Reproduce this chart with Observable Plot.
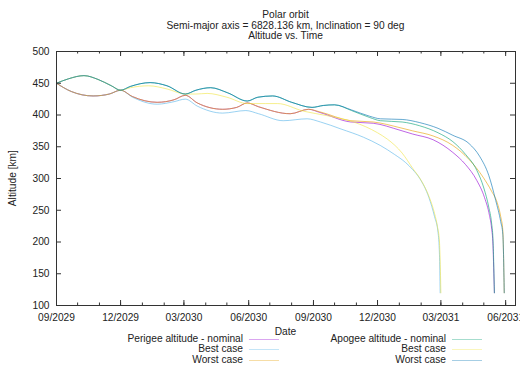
<!DOCTYPE html>
<html><head><meta charset="utf-8">
<script src="https://cdn.jsdelivr.net/npm/d3@7"></script>
<script src="https://cdn.jsdelivr.net/npm/@observablehq/plot@0.6"></script>
<style>
body{margin:0;background:#fff;}
#wrap{position:relative;width:520px;height:365px;overflow:hidden;font-family:"Liberation Sans",Arial,sans-serif;font-size:10.2px;color:#222;line-height:10.3px;}
#title{position:absolute;left:25.5px;top:10.3px;width:520px;text-align:center;}
#chart{position:absolute;left:0;top:40px;}
#ylabel{position:absolute;left:-37px;top:173px;width:100px;text-align:center;transform:rotate(-90deg);transform-origin:50% 50%;}
#xlabel{position:absolute;left:235.5px;top:327px;width:100px;text-align:center;}
.lt{position:absolute;white-space:nowrap;text-align:right;}
.sw{position:absolute;height:1px;width:30px;}
</style></head><body>
<div id="wrap">
  <div id="title"></div>
  <div id="chart"></div>
  <div id="ylabel"></div>
  <div id="xlabel"></div>
  <div id="legend"></div>
</div>
<script>
const titleLines = ["Polar orbit", "Semi-major axis = 6828.136 km, Inclination = 90 deg", "Altitude vs. Time"];
const yLabel = "Altitude [km]";
const xLabel = "Date";
const xTickLabels = ["2029-09-01","2029-12-01","2030-03-01","2030-06-01","2030-09-01","2030-12-01","2031-03-01","2031-06-01"];
const yTicks = [100,150,200,250,300,350,400,450,500];
const xDomain = ["2029-09-01","2031-06-15"];

const seriesLabels = ["Perigee altitude - nominal","Best case","Worst case","Apogee altitude - nominal","Best case","Worst case"];
const seriesColors = ["#9400d3","#56b4e9","#e69f00","#009e73","#f0e442","#0072b2"];

const perigeeNominal = [
 ["2029-09-01",450],["2029-09-22",437],["2029-10-23",430],["2029-11-15",433],["2029-12-01",439],
 ["2029-12-18",429],["2030-01-22",420],["2030-02-15",424],["2030-03-03",431],["2030-03-20",419],
 ["2030-04-25",409],["2030-05-15",412],["2030-05-30",419],["2030-06-15",413],["2030-07-30",402],
 ["2030-08-25",409],["2030-09-10",404],["2030-10-24",389],["2030-11-25",387],["2031-01-02",376],
 ["2031-01-20",370],["2031-02-18",361],["2031-03-18",341],["2031-04-05",322],["2031-04-21",297],
 ["2031-05-02",270],["2031-05-09",242],["2031-05-12",222],["2031-05-14",195],["2031-05-15",160],["2031-05-16",120]
];
const perigeeBest = [
 ["2029-09-01",450],["2029-09-22",437],["2029-10-23",430],["2029-11-15",433],["2029-12-01",439],
 ["2029-12-18",428],["2030-01-22",417],["2030-02-15",421],["2030-03-03",425],["2030-03-20",414],
 ["2030-04-25",403],["2030-05-28",407],["2030-06-15",402],["2030-07-20",391],["2030-08-23",394],
 ["2030-09-11",389],["2030-10-10",378],["2030-11-11",365],["2030-12-05",352],["2030-12-25",338],
 ["2031-01-10",325],["2031-01-20",314],["2031-01-30",300],["2031-02-12",270],["2031-02-20",240],
 ["2031-02-25",215],["2031-02-27",180],["2031-02-28",120]
];
const perigeeWorst = [
 ["2029-09-01",450],["2029-09-22",437],["2029-10-23",430],["2029-11-15",433],["2029-12-01",439],
 ["2029-12-18",429],["2030-01-22",420],["2030-02-15",424],["2030-03-03",431],["2030-03-20",419],
 ["2030-04-25",409],["2030-05-15",412],["2030-05-30",419],["2030-06-15",413],["2030-07-30",402],
 ["2030-08-25",409],["2030-09-10",405],["2030-10-24",391],["2030-11-25",389],["2031-01-02",380],
 ["2031-01-20",375],["2031-02-18",367],["2031-03-18",352],["2031-04-10",330],["2031-04-30",302],
 ["2031-05-12",280],["2031-05-20",262],["2031-05-25",240],["2031-05-28",218],["2031-05-29",180],["2031-05-30",120]
];
const apogeeNominal = [
 ["2029-09-01",450],["2029-09-18",457],["2029-10-10",462],["2029-10-30",456],["2029-11-18",446],
 ["2029-12-01",439],["2029-12-15",445],["2030-01-12",451],["2030-02-05",446],["2030-03-03",433],
 ["2030-03-18",439],["2030-04-08",443],["2030-05-02",435],["2030-05-30",422],["2030-06-14",428],
 ["2030-07-05",430],["2030-08-01",420],["2030-08-30",412],["2030-09-15",415],["2030-10-01",416],
 ["2030-10-25",407],["2030-11-20",396],["2030-12-05",391],["2031-01-05",389],["2031-01-30",383],
 ["2031-02-25",372],["2031-03-18",358],["2031-04-05",338],["2031-04-21",313],["2031-05-01",285],
 ["2031-05-08",255],["2031-05-12",230],["2031-05-14",205],["2031-05-15",170],["2031-05-16",120]
];
const apogeeBest = [
 ["2029-09-01",450],["2029-09-18",457],["2029-10-10",462],["2029-10-30",456],["2029-11-18",446],
 ["2029-12-01",439],["2029-12-15",443],["2030-01-10",446],["2030-02-05",441],["2030-03-03",433],
 ["2030-03-18",433],["2030-04-03",434],["2030-05-01",428],["2030-05-30",418],["2030-06-25",418],
 ["2030-07-12",418],["2030-08-18",406],["2030-09-20",399],["2030-10-28",389],["2030-12-01",372],
 ["2030-12-15",362],["2031-01-05",340],["2031-01-20",316],["2031-02-01",297],["2031-02-12",272],
 ["2031-02-20",245],["2031-02-24",225],["2031-02-27",200],["2031-02-28",170],["2031-03-01",120]
];
const apogeeWorst = [
 ["2029-09-01",450],["2029-09-18",457],["2029-10-10",462],["2029-10-30",456],["2029-11-18",446],
 ["2029-12-01",439],["2029-12-15",445],["2030-01-12",451],["2030-02-05",446],["2030-03-03",433],
 ["2030-03-18",439],["2030-04-08",443],["2030-05-02",435],["2030-05-30",422],["2030-06-14",428],
 ["2030-07-05",430],["2030-08-01",420],["2030-08-30",412],["2030-09-15",415],["2030-10-01",416],
 ["2030-10-25",408],["2030-11-20",398],["2030-12-05",394],["2031-01-05",393],["2031-01-30",388],
 ["2031-02-25",379],["2031-03-18",368],["2031-04-10",355],["2031-04-25",335],["2031-05-08",305],
 ["2031-05-18",265],["2031-05-25",232],["2031-05-28",212],["2031-05-29",180],["2031-05-30",120]
];
const allSeries = [perigeeNominal, perigeeBest, perigeeWorst, apogeeNominal, apogeeBest, apogeeWorst];

const parse = d3.utcParse("%Y-%m-%d");
const fmt = d3.utcFormat("%m/%Y");
const majorDates = xTickLabels.map(parse);
const minorDates = d3.utcMonth.range(parse(xDomain[0]), parse(xDomain[1]));

const W = 520, H = 290, mt = 11, mb = 25, ml = 56, mr = 5;
const innerH = H - mt - mb, innerW = W - ml - mr;

const lines = allSeries.map((s, i) => Plot.line(s, {
  x: d => parse(d[0]), y: d => d[1], stroke: seriesColors[i],
  strokeWidth: 1, strokeOpacity: 0.6, curve: "monotone-x"
}));

const chart = Plot.plot({
  width: W, height: H, marginTop: mt, marginBottom: mb, marginLeft: ml, marginRight: mr,
  style: {fontFamily: "Liberation Sans, Arial, sans-serif", fontSize: "10.2px", background: "white", color: "#222"},
  x: {type: "utc", domain: xDomain.map(parse)},
  y: {domain: [100, 500]},
  marks: [
    ...lines,
    Plot.frame({stroke: "#333", strokeWidth: 1}),
    Plot.ruleX(majorDates, {x: d => d, insetTop: innerH - 5, stroke: "#333"}),
    Plot.ruleX(majorDates, {x: d => d, insetBottom: innerH - 5, stroke: "#333"}),
    Plot.ruleX(minorDates, {x: d => d, insetTop: innerH - 2.5, stroke: "#333"}),
    Plot.ruleX(minorDates, {x: d => d, insetBottom: innerH - 2.5, stroke: "#333"}),
    Plot.ruleY(yTicks, {y: d => d, insetRight: innerW - 5, stroke: "#333"}),
    Plot.ruleY(yTicks, {y: d => d, insetLeft: innerW - 5, stroke: "#333"}),
    Plot.axisX(majorDates, {tickFormat: fmt, tickSize: 0, tickPadding: 8, label: null}),
    Plot.axisY(yTicks, {tickSize: 0, tickPadding: 7, label: null})
  ]
});
document.getElementById("chart").appendChild(chart);

document.getElementById("title").innerHTML = titleLines.join("<br>");
document.getElementById("ylabel").textContent = yLabel;
document.getElementById("xlabel").textContent = xLabel;

const legend = document.getElementById("legend");
const colRight = [243, 446], swLeft = [249, 452], rowTop = [333.6, 344, 354.6];
seriesLabels.forEach((lab, i) => {
  const col = Math.floor(i / 3), row = i % 3;
  const t = document.createElement("div");
  t.className = "lt";
  t.style.right = (520 - colRight[col]) + "px";
  t.style.top = rowTop[row] + "px";
  t.textContent = lab;
  legend.appendChild(t);
  const s = document.createElement("div");
  s.className = "sw";
  s.style.left = swLeft[col] + "px";
  s.style.top = (rowTop[row] + 5) + "px";
  s.style.background = seriesColors[i];
  s.style.opacity = 0.35;
  legend.appendChild(s);
});
</script>
</body></html>
